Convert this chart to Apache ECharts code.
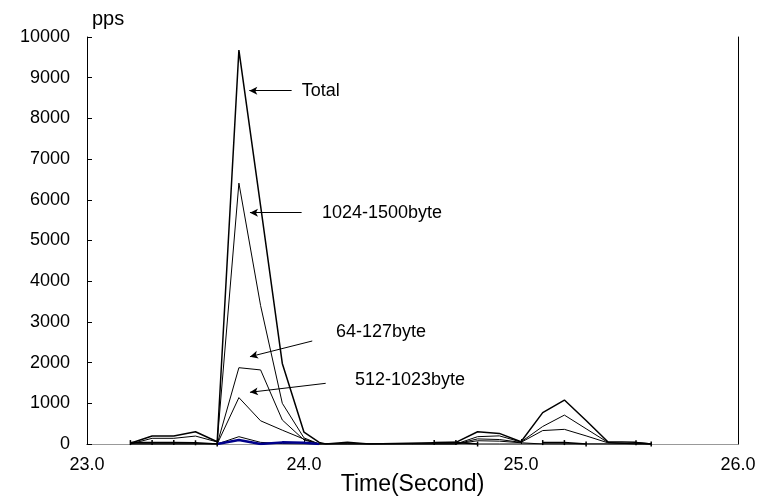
<!DOCTYPE html>
<html>
<head>
<meta charset="utf-8">
<script src="https://cdn.jsdelivr.net/npm/echarts@6/dist/echarts.min.js"></script>
<style>html,body{margin:0;padding:0;background:#fff;}#c{width:762px;height:496px;}</style>
</head>
<body>
<div id="c"></div>
<script>
// Sample times (seconds)
var times = [23.2, 23.3, 23.4, 23.5, 23.6, 23.7, 23.8, 23.9, 24.0, 24.07, 24.1, 24.2, 24.3, 24.6, 24.7, 24.8, 24.9, 25.0, 25.1, 25.2, 25.3, 25.4, 25.53, 25.6];
// Series values (pps); null = no sample drawn
var total      = [20, 195, 195, 300, 55, 9680, 5850, 1980, 290, 40, 0, 45, 0, 30, 40, 300, 260, 55, 770, 1080, 577, 55, 40, 0];
var b1024_1500 = [0, 140, 140, 195, 50, 6410, 3400, 1000, 150, 0, 0, 0, 0, 0, 0, 180, 200, 50, 430, 710, 375, 40, 0, 0];
var b64_127    = [0, 0, 0, 0, 0, 1875, 1820, 590, 100, 0, 0, 0, 0, 0, 0, 125, 110, 40, 330, 360, 200, 30, 0, 0];
var b512_1023  = [0, 0, 0, 0, 0, 1140, 570, 340, 120, 0, 0, 0, 0, 0, 0, 80, 70, 30, 0, 0, 0, 0, 0, 0];
var bOther     = [0, 0, 0, 0, 0, 180, 40, 10, 0, 0, 0, 0, 0, 0, 0, 0, 0, 0, 0, 0, 0, 0, 0, 0];
var bBlue      = [null, null, null, null, 0, 100, 0, 40, 30, 0, null, null, null, null, null, null, null, null, null, null, null, null, null, null];
var bSmall     = [35, 35, 35, 30, 0, null, null, null, null, null, null, null, null, 35, 35, 0, null, null, 35, 35, 0, null, 30, 0];
var yTicks = [0, 1000, 2000, 3000, 4000, 5000, 6000, 7000, 8000, 9000, 10000];
var xTicks = ['23.0', '24.0', '25.0', '26.0'];

// Annotations in data units
var annotations = [
  {text: 'Total',         from: [23.943, 8680], to: [23.748, 8680], at: [23.99, 8680]},
  {text: '1024-1500byte', from: [23.989, 5683], to: [23.751, 5683], at: [24.083, 5680]},
  {text: '64-127byte',    from: [24.038, 2531], to: [23.751, 2145], at: [24.147, 2740]},
  {text: '512-1023byte',  from: [24.100, 1491], to: [23.751, 1270], at: [24.235, 1560]}
];

function pairs(vals) { return times.map(function (t, i) { return [t, vals[i]]; }); }

var FONT = '"Liberation Sans", Arial, sans-serif';
var chart = echarts.init(document.getElementById('c'), null, {renderer: 'canvas'});

function lineSeries(name, vals, color, width, extra) {
  var s = {
    name: name, type: 'line', data: pairs(vals), showSymbol: false, symbol: 'none',
    connectNulls: false,
    lineStyle: {color: color, width: width}, itemStyle: {color: color},
    animation: false, z: 3
  };
  if (extra) for (var k in extra) s[k] = extra[k];
  return s;
}

var arrowLines = annotations.map(function (a) {
  return [{coord: a.from, symbol: 'none'}, {coord: a.to, symbol: 'arrow'}];
});

var option = {
  backgroundColor: '#fff',
  animation: false,
  grid: {left: 87, right: 24, top: 37, bottom: 52, containLabel: false, outerBoundsMode: 'none'},
  xAxis: [{
    type: 'value', min: 23, max: 26, interval: 1,
    name: 'Time(Second)', nameLocation: 'middle', nameGap: 29, nameMoveOverlap: false,
    nameTextStyle: {fontFamily: FONT, fontSize: 23, color: '#000'},
    axisLine: {show: true, lineStyle: {color: '#000', width: 1}},
    axisTick: {show: true, inside: true, length: 5, lineStyle: {color: '#000'}},
    axisLabel: {fontFamily: FONT, fontSize: 18, color: '#000', margin: 12,
      formatter: function (v) { var s = v.toFixed(1); return xTicks.indexOf(s) >= 0 ? s : ''; }},
    splitLine: {show: false}
  }, {
    type: 'value', min: 23, max: 26, position: 'top',
    axisLine: {show: true, lineStyle: {color: '#999', width: 1}},
    axisTick: {show: false}, axisLabel: {show: false}, splitLine: {show: false}
  }],
  yAxis: [{
    type: 'value', min: 0, max: 10000, interval: 1000,
    name: 'pps', nameLocation: 'end', nameGap: 8,
    nameTextStyle: {fontFamily: FONT, fontSize: 20, color: '#000', align: 'left', padding: [0, 0, 0, 5]},
    axisLine: {show: true, lineStyle: {color: '#000', width: 1}},
    axisTick: {show: true, inside: true, length: 5, lineStyle: {color: '#000'}},
    axisLabel: {fontFamily: FONT, fontSize: 18, color: '#000', margin: 17,
      formatter: function (v) { return yTicks.indexOf(v) >= 0 ? String(v) : ''; }},
    splitLine: {show: false}
  }, {
    type: 'value', min: 0, max: 10000, position: 'right',
    axisLine: {show: true, lineStyle: {color: '#000', width: 1}},
    axisTick: {show: false}, axisLabel: {show: false}, splitLine: {show: false}
  }],
  series: [
    lineSeries('small', bSmall, '#000', 1.5, {showSymbol: true, symbol: 'rect', symbolSize: [1.5, 5]}),
    lineSeries('other', bOther, '#000', 1),
    lineSeries('512-1023byte', b512_1023, '#000', 1),
    lineSeries('64-127byte', b64_127, '#000', 1),
    lineSeries('1024-1500byte', b1024_1500, '#000', 1),
    lineSeries('blue', bBlue, '#00008b', 2.5),
    lineSeries('Total', total, '#000', 1.5, {
      markLine: {
        silent: true, animation: false, symbolSize: [6, 8],
        lineStyle: {color: '#000', width: 1, type: 'solid'},
        label: {show: false},
        data: arrowLines
      }
    })
  ]
};
chart.setOption(option);

var graphics = annotations.map(function (a) {
  var p = chart.convertToPixel({xAxisIndex: 0, yAxisIndex: 0}, a.at);
  return {
    type: 'text', x: p[0], y: p[1], silent: true,
    style: {text: a.text, fontFamily: FONT, fontSize: 18, fill: '#000', textAlign: 'left', textVerticalAlign: 'middle'}
  };
});
chart.setOption({graphic: graphics});
</script>
</body>
</html>
